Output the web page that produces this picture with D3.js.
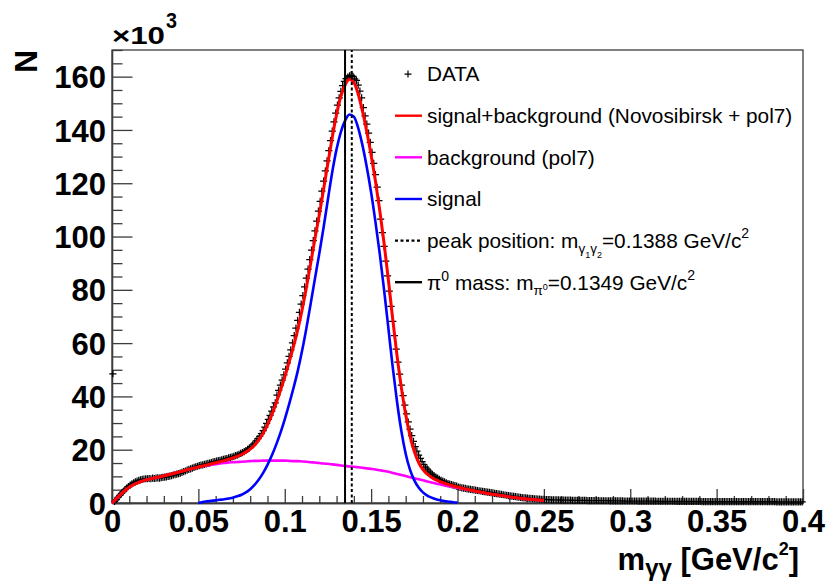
<!DOCTYPE html>
<html><head><meta charset="utf-8">
<script src="https://cdn.jsdelivr.net/npm/d3@7"></script>
<style>
body{margin:0;background:#fff}
svg{display:block}
text{font-family:"Liberation Sans",Arial,Helvetica,sans-serif}
</style>
</head><body>
<svg id="chart" width="828" height="586"></svg>
<script>
// ---------------- DATA (counts in units of 10^3) ----------------
const binWidth = 0.001;            // histogram bins from 0 to 0.4
const dataCounts = [
48.5,0.6,1.3,2.1,2.9,3.6,4.3,5.0,5.6,6.2,
6.7,7.2,7.6,7.9,8.2,8.5,8.7,8.9,9.0,9.1,
9.1,9.2,9.1,9.3,9.2,9.3,9.4,9.3,9.5,9.6,
9.7,9.8,10.0,10.1,10.3,10.5,10.6,10.8,11.0,11.2,
11.5,11.8,12.0,12.3,12.6,12.8,13.1,13.4,13.6,13.8,
14.0,14.2,14.3,14.5,14.7,14.9,15.0,15.2,15.4,15.5,
15.7,15.9,16.0,16.2,16.4,16.6,16.7,16.9,17.1,17.3,
17.5,17.8,18.0,18.3,18.6,18.9,19.3,19.7,20.1,20.6,
21.2,21.8,22.5,23.3,24.2,25.0,26.0,27.2,28.5,29.9,
31.4,32.9,34.5,36.1,37.6,40.5,42.3,44.2,46.1,48.1,
50.2,52.6,55.0,57.5,60.1,62.8,65.6,68.5,71.5,74.6,
77.8,81.1,84.4,87.8,91.3,94.9,98.5,102.1,105.8,109.5,
113.2,117.0,120.8,124.6,128.4,132.2,136.0,139.6,143.0,146.3,
149.3,152.0,154.5,156.6,158.2,159.3,159.8,160.3,160.6,160.1,
159.2,158.6,156.8,154.6,152.0,148.4,145.3,142.2,138.8,135.3,
131.6,127.5,123.2,118.5,113.5,106.5,101.5,96.3,90.8,85.2,
79.5,73.8,68.2,62.8,57.7,52.9,48.4,44.2,40.3,36.7,
33.4,30.4,27.7,25.3,23.1,21.2,19.5,18.0,16.7,15.5,
14.4,13.5,12.7,12.0,11.3,10.7,10.2,9.7,9.3,8.9,
8.5,8.2,7.9,7.6,7.3,7.1,6.9,6.7,6.5,6.3,
6.0,5.9,5.7,5.6,5.5,5.3,5.2,5.1,5.0,4.9,
4.8,4.7,4.6,4.5,4.4,4.3,4.2,4.1,4.0,3.9,
3.8,3.6,3.5,3.4,3.3,3.2,3.1,3.0,2.9,2.8,
2.7,2.6,2.5,2.4,2.3,2.2,2.1,2.0,1.95,1.9,
1.8,1.75,1.7,1.65,1.6,1.55,1.5,1.45,1.4,1.35,
1.3,1.3,1.25,1.25,1.2,1.2,1.2,1.15,1.15,1.1,
1.1,1.1,1.1,1.05,1.05,1.05,1.0,1.0,1.0,1.0,
1.0,0.95,0.95,0.95,0.95,0.9,0.9,0.9,0.9,0.9,
0.9,0.9,0.85,0.85,0.85,0.85,0.85,0.85,0.8,0.8,
0.8,0.8,0.8,0.8,0.8,0.8,0.75,0.75,0.75,0.75,
0.75,0.75,0.75,0.75,0.7,0.7,0.7,0.7,0.7,0.7,
0.7,0.7,0.7,0.7,0.7,0.65,0.65,0.65,0.65,0.65,
0.65,0.65,0.65,0.65,0.65,0.65,0.6,0.6,0.6,0.6,
0.6,0.6,0.6,0.6,0.6,0.6,0.6,0.6,0.6,0.6,
0.6,0.55,0.55,0.55,0.55,0.55,0.55,0.55,0.55,0.55,
0.55,0.55,0.55,0.55,0.55,0.55,0.55,0.5,0.5,0.5,
0.5,0.5,0.5,0.5,0.5,0.5,0.5,0.5,0.5,0.5,
0.5,0.5,0.5,0.5,0.5,0.5,0.5,0.5,0.5,0.5,
0.5,0.5,0.5,0.5,0.45,0.45,0.45,0.45,0.45,0.45,
0.45,0.45,0.45,0.45,0.45,0.45,0.45,0.45,0.45,0.45
];

const fitStep = 0.0025;
// signal+background (Novosibirsk + pol7), x from 0 to 0.25
const totalFit = [
0.0,1.6,3.2,4.7,5.9,6.9,7.6,8.2,8.7,9.1,
9.5,9.8,10.2,10.6,11.0,11.4,11.8,12.3,12.7,13.1,
13.5,13.9,14.3,14.7,15.1,15.5,15.9,16.4,16.9,17.5,
18.2,19.1,20.2,21.7,23.7,26.2,29.3,33.0,37.4,42.2,
47.3,52.8,58.6,65.0,72.4,80.8,89.9,99.3,108.2,117.8,
127.6,137.2,145.8,152.6,157.0,159.0,157.8,153.5,147.0,139.3,
130.5,120.8,109.8,97.5,83.7,69.0,55.3,43.3,33.2,25.2,
19.3,15.2,12.5,10.8,9.6,8.7,8.0,7.4,6.9,6.4,
6.0,5.6,5.2,4.9,4.5,4.2,3.9,3.6,3.3,3.1,
2.8,2.6,2.3,2.1,1.9,1.7,1.5,1.4,1.2,1.1,
0.9
];
const totalStart = 0;
// background (pol7), x from 0 to 0.25
const bgFit = [
0.0,1.6,3.2,4.7,5.9,6.9,7.6,8.2,8.7,9.1,
9.5,9.8,10.2,10.6,11.0,11.4,11.8,12.3,12.7,13.1,
13.5,13.8,14.1,14.4,14.6,14.8,15.0,15.2,15.3,15.4,
15.5,15.6,15.7,15.8,15.8,15.9,15.9,15.9,15.9,15.9,
15.9,15.8,15.7,15.7,15.6,15.5,15.3,15.2,15.0,14.8,
14.7,14.5,14.3,14.1,13.9,13.7,13.6,13.4,13.2,13.0,
12.8,12.6,12.3,12.0,11.7,11.3,10.9,10.5,10.1,9.7,
9.3,8.9,8.5,8.1,7.7,7.3,7.0,6.6,6.3,6.0,
5.7,5.4,5.1,4.8,4.5,4.2,3.9,3.6,3.3,3.1,
2.8,2.6,2.3,2.1,1.9,1.7,1.5,1.4,1.2,1.1,
0.9
];
const bgStart = 0;
// signal (Novosibirsk), x from 0.05 to 0.2
const signalFit = [
0.0,0.4,0.6,0.8,1.0,1.2,1.4,1.7,2.0,2.5,
3.1,4.0,5.2,6.8,8.8,11.3,14.3,17.8,21.8,26.3,
31.4,37.0,43.0,49.5,57.0,65.5,74.8,84.3,93.6,103.5,
114.0,124.2,132.8,139.3,143.6,145.8,145.0,140.8,134.2,126.0,
116.5,105.5,93.5,80.0,65.5,51.0,38.0,27.0,18.5,12.5,
8.5,5.8,4.0,2.8,2.0,1.4,1.0,0.7,0.5,0.3,
0.2
];
const signalStart = 0.05;

const peakPosition = 0.1388;
const pi0Mass = 0.1349;

const xMajorTicks = [0,0.05,0.1,0.15,0.2,0.25,0.3,0.35,0.4];
const xTickLabels = ["0","0.05","0.1","0.15","0.2","0.25","0.3","0.35","0.4"];
const yMajorTicks = [0,20,40,60,80,100,120,140,160];
const yTickLabels = ["0","20","40","60","80","100","120","140","160"];

// ---------------- DRAWING ----------------
const svg = d3.select("#chart");
const x = d3.scaleLinear().domain([0,0.4]).range([112,803]);
const y = d3.scaleLinear().domain([0,170]).range([503,50]);
const axisColor = "#3c3c3c";

// frame
svg.append("rect").attr("x",x(0)).attr("y",y(170)).attr("width",x(0.4)-x(0)).attr("height",y(0)-y(170))
  .attr("fill","none").attr("stroke",axisColor).attr("stroke-width",1.3);

// axes
const xMinor = d3.range(0,41).map(i=>i/100).filter(v=>Math.abs(v*20-Math.round(v*20))>1e-6);
const yMinor = d3.range(0,171,5).filter(v=>v%20!==0);

function styleAxis(g){
  g.select(".domain").attr("stroke",axisColor).attr("stroke-width",1.3);
  g.selectAll(".tick line").attr("stroke",axisColor).attr("stroke-width",1.3);
  g.selectAll("text").attr("font-family","'Liberation Sans',Arial,sans-serif")
    .attr("font-size",31).attr("font-weight","bold").attr("fill","#000");
}
svg.append("g").attr("transform",`translate(0,${y(0)})`)
  .call(d3.axisBottom(x).tickValues(xMinor).tickSize(-7).tickSizeOuter(0).tickFormat(""))
  .call(styleAxis);
svg.append("g").attr("transform",`translate(0,${y(0)})`)
  .call(d3.axisBottom(x).tickValues(xMajorTicks).tickSize(-14).tickSizeOuter(0).tickPadding(7)
    .tickFormat((d,i)=>xTickLabels[i]))
  .call(styleAxis);
svg.append("g").attr("transform",`translate(${x(0)},0)`)
  .call(d3.axisLeft(y).tickValues(yMinor).tickSize(-10.5).tickSizeOuter(0).tickFormat(""))
  .call(styleAxis);
svg.append("g").attr("transform",`translate(${x(0)},0)`)
  .call(d3.axisLeft(y).tickValues(yMajorTicks).tickSize(-20.5).tickSizeOuter(0).tickPadding(6)
    .tickFormat((d,i)=>yTickLabels[i]))
  .call(styleAxis)
  .call(g=>g.selectAll("text").attr("dy","0.36em"));

// data markers "+"
const ms = 3.6;
const crossPath = dataCounts.map((v,i)=>{
  const cx = x(binWidth*(i+0.5)), cy = y(v);
  return `M${cx-ms},${cy}H${cx+ms}M${cx},${cy-ms}V${cy+ms}`;
}).join("");
svg.append("path").attr("d",crossPath).attr("stroke","#000").attr("stroke-width",1.25).attr("fill","none");

// fit curves
function curve(arr,start,color,w){
  const line = d3.line().x((d,i)=>x(start+i*fitStep)).y(d=>y(d)).curve(d3.curveMonotoneX);
  svg.append("path").attr("d",line(arr)).attr("fill","none").attr("stroke",color)
    .attr("stroke-width",w).attr("stroke-linejoin","round");
}
curve(bgFit,bgStart,"#ff00ff",2.6);
curve(signalFit,signalStart,"#0000ff",2.6);
curve(totalFit,totalStart,"#ff0000",3);

// vertical lines
svg.append("line").attr("x1",x(pi0Mass)).attr("x2",x(pi0Mass)).attr("y1",y(0)).attr("y2",y(170))
  .attr("stroke","#000").attr("stroke-width",2);
svg.append("line").attr("x1",x(peakPosition)).attr("x2",x(peakPosition)).attr("y1",y(0)).attr("y2",y(170))
  .attr("stroke","#000").attr("stroke-width",2).attr("stroke-dasharray","3,2.5");

// rich text helper
function rich(parent,xp,yp,parts,size,opts={}){
  const t = parent.append("text").attr("x",xp).attr("y",yp).attr("font-size",size)
    .attr("font-weight",opts.bold?"bold":"normal").attr("text-anchor",opts.anchor||"start").attr("fill","#000");
  let cur = 0;
  parts.forEach(p=>{
    const off = p.off||0;
    t.append("tspan").attr("dy",off-cur).attr("font-size",p.size||size).text(p.t);
    cur = off;
  });
  return t;
}

// legend
const lg = svg.append("g");
const legendRows = [74.1,115.7,157.3,199,240.6,282.2];
const lx0 = 395, lx1 = 422, tx = 427;
lg.append("path").attr("d",`M${408-3.5},${legendRows[0]}H${408+3.5}M408,${legendRows[0]-3.5}V${legendRows[0]+3.5}`)
  .attr("stroke","#000").attr("stroke-width",1.2);
[["#ff0000",1,null],["#ff00ff",2,null],["#0000ff",3,null],["#000",4,"3,2.5"],["#000",5,null]].forEach(([c,r,da])=>{
  const l = lg.append("line").attr("x1",lx0).attr("x2",lx1).attr("y1",legendRows[r]).attr("y2",legendRows[r])
    .attr("stroke",c).attr("stroke-width",2.4);
  if(da) l.attr("stroke-dasharray",da);
});
const lfs = 20.8, base = 7.3;
rich(lg,tx,legendRows[0]+base,[{t:"DATA"}],lfs);
rich(lg,tx,legendRows[1]+base,[{t:"signal+background (Novosibirsk + pol7)"}],lfs);
rich(lg,tx,legendRows[2]+base,[{t:"background (pol7)"}],lfs);
rich(lg,tx,legendRows[3]+base,[{t:"signal"}],lfs);
rich(lg,tx,legendRows[4]+base,[
  {t:"peak position: m"},{t:"γ",size:13.5,off:5},{t:"1",size:9,off:10},
  {t:"γ",size:13.5,off:5},{t:"2",size:9,off:10},{t:"=0.1388 GeV/c",off:0},{t:"2",size:14,off:-10}],lfs);
rich(lg,tx,legendRows[5]+base,[
  {t:"π"},{t:"0",size:14,off:-9},{t:" mass: m",off:0},{t:"π",size:13.5,off:5},{t:"0",size:9,off:0},
  {t:"=0.1349 GeV/c",off:0},{t:"2",size:14,off:-10}],lfs);

// axis titles
svg.append("text").attr("font-size",32).attr("font-weight","bold").attr("text-anchor","end")
  .attr("transform","translate(37,50) rotate(-90)").text("N");
svg.append("text").attr("x",112).attr("y",44).attr("font-size",24).attr("font-weight","bold")
  .attr("textLength",53).attr("lengthAdjust","spacingAndGlyphs").text("×10");
svg.append("text").attr("x",166).attr("y",28).attr("font-size",22).attr("font-weight","bold")
  .attr("textLength",11).attr("lengthAdjust","spacingAndGlyphs").text("3");
rich(svg,799,570,[{t:"m"},{t:"γγ",size:24,off:6},{t:" [GeV/c",off:0},{t:"2",size:18,off:-15},{t:"]",off:0}],31,{bold:true,anchor:"end"});
</script>
</body></html>
